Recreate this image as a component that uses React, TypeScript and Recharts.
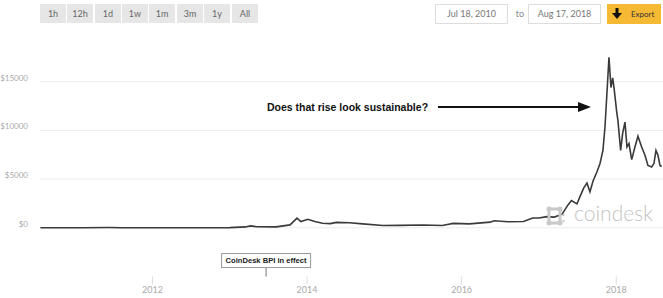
import React from "react";
import { LineChart, Line, XAxis, YAxis, ReferenceLine } from "recharts";

const years = [
  2010.55, 2010.85, 2011.1, 2011.44, 2011.6, 2011.9, 2012.3, 2012.7, 2013.0, 2013.2,
  2013.27, 2013.35, 2013.6, 2013.78, 2013.87, 2013.92, 2014.01, 2014.1, 2014.2, 2014.3,
  2014.38, 2014.55, 2014.72, 2014.98, 2015.2, 2015.5, 2015.75, 2015.89, 2016.1, 2016.37,
  2016.42, 2016.6, 2016.8, 2016.92, 2017.0, 2017.1, 2017.2, 2017.3, 2017.376, 2017.42,
  2017.492, 2017.531, 2017.58, 2017.621, 2017.66, 2017.7, 2017.751, 2017.79, 2017.828, 2017.854,
  2017.889, 2017.906, 2017.932, 2017.954, 2017.971, 2018.006, 2018.022, 2018.057, 2018.083, 2018.113,
  2018.139, 2018.165, 2018.2, 2018.242, 2018.281, 2018.329, 2018.372, 2018.41, 2018.458, 2018.488,
  2018.514, 2018.54, 2018.566, 2018.588,
];
const prices = [
  0.07, 0.25, 0.9, 25, 12, 3, 5, 11, 13, 90,
  200, 110, 100, 300, 990, 640, 880, 640, 470, 430,
  560, 520, 400, 240, 250, 280, 240, 450, 400, 580,
  720, 620, 650, 1000, 1000, 1150, 1100, 1400, 2350, 2800,
  2450, 3200, 4100, 4600, 3700, 4800, 5750, 6600, 7950, 10300,
  15100, 17500, 14400, 15400, 14400, 11900, 11000, 7950, 9700, 10850,
  8300, 8650, 7000, 8300, 9400, 8300, 7450, 6400, 6250, 6600,
  7950, 7450, 6400, 6300,
];
const yTicks = [0, 5000, 10000, 15000];
const xTicks = [2012, 2014, 2016, 2018];
const rangeButtons = ["1h", "12h", "1d", "1w", "1m", "3m", "1y", "All"];
const startDate = "Jul 18, 2010";
const endDate = "Aug 17, 2018";
const bpiYear = 2013.47;
const bpiLabel = "CoinDesk BPI in effect";
const arrowText = "Does that rise look sustainable?";

const data = years.map((t, i) => ({ t, price: prices[i] }));

const FONT = "Lato, 'Open Sans', sans-serif";

const YTick = (props: any) => {
  const { y, payload } = props;
  return (
    <text x={28} y={y - 3} textAnchor="end" fontFamily={FONT} fontSize={8} fill="#aaa" dominantBaseline="middle">
      {`$${payload.value}`}
    </text>
  );
};

const BpiLabel = (props: any) => {
  const vb = props.viewBox || {};
  const cx = vb.x;
  const top = vb.y;
  const w = 89;
  const h = 14;
  return (
    <g>
      <rect x={cx - w / 2} y={top - h} width={w} height={h} fill="#fff" stroke="#999" strokeWidth={1} />
      <text x={cx} y={top - h / 2 + 0.5} textAnchor="middle" dominantBaseline="middle" fontFamily="'Liberation Sans', Arial, sans-serif" fontWeight="bold" fontSize={7.6} fill="#222">
        {bpiLabel}
      </text>
    </g>
  );
};

export default function App() {
  return (
    <div style={{ position: "absolute", left: 0, top: 0, width: 663, height: 298, background: "#fff", overflow: "hidden" }}>
      {rangeButtons.map((b, i) => {
        const lefts = [40, 67, 95, 122, 149, 177, 204, 232];
        return (
          <div key={b} style={{ position: "absolute", left: lefts[i], top: 4, width: 26, height: 19, background: "#e6e6e6", color: "#666", fontFamily: FONT, fontSize: 9, lineHeight: "19px", textAlign: "center" }}>
            {b}
          </div>
        );
      })}
      <div style={{ position: "absolute", left: 435, top: 4, width: 71, height: 18, border: "1px solid #ddd", color: "#777", fontFamily: FONT, fontSize: 9, lineHeight: "18px", textAlign: "center" }}>{startDate}</div>
      <div style={{ position: "absolute", left: 514, top: 4, width: 12, height: 20, color: "#888", fontFamily: FONT, fontSize: 9, lineHeight: "20px", textAlign: "center" }}>to</div>
      <div style={{ position: "absolute", left: 528, top: 4, width: 71, height: 18, border: "1px solid #ddd", color: "#777", fontFamily: FONT, fontSize: 9, lineHeight: "18px", textAlign: "center" }}>{endDate}</div>
      <div style={{ position: "absolute", left: 607, top: 4, width: 54, height: 20, background: "#f5b933", color: "#333", fontFamily: FONT, fontSize: 8, lineHeight: "20px" }}>
        <svg width={10} height={12} style={{ position: "absolute", left: 5, top: 4 }}>
          <rect x={3.5} y={0} width={3} height={6} fill="#111" />
          <polygon points="0,5 10,5 5,11" fill="#111" />
        </svg>
        <span style={{ position: "absolute", left: 24 }}>Export</span>
      </div>

      <div style={{ position: "absolute", left: 0, top: 0 }}>
        <LineChart width={663} height={298} data={data} margin={{ top: 33, right: 0, bottom: 0, left: 0 }}>
          <XAxis
            dataKey="t"
            type="number"
            domain={[2010.545, 2018.605]}
            ticks={xTicks}
            height={21.5}
            axisLine={false}
            tickSize={8}
            tickMargin={2}
            tickLine={{ stroke: "#ddd" }}
            tick={{ fontFamily: FONT, fontSize: 9, fill: "#aaa" }}
            interval={0}
          />
          <YAxis
            type="number"
            domain={[-5000, 20000]}
            ticks={yTicks}
            width={40}
            axisLine={false}
            tickLine={false}
            tick={<YTick />}
            interval={0}
          />
          {yTicks.map((v) => (
            <ReferenceLine key={v} y={v} stroke="#ececec" strokeWidth={1} />
          ))}
          <ReferenceLine
            segment={[{ x: bpiYear, y: -5000 }, { x: bpiYear, y: -4080 }]}
            stroke="#777"
            strokeWidth={1}
            label={(p: any) => <BpiLabel {...p} />}
          />
          <Line type="linear" dataKey="price" stroke="#3a3a3a" strokeWidth={1.6} dot={false} isAnimationActive={false} />
        </LineChart>
      </div>

      <div style={{ position: "absolute", left: 267, top: 100, fontFamily: "'Liberation Sans', Arial, sans-serif", fontWeight: "bold", fontSize: 10.5, color: "#111", whiteSpace: "nowrap", lineHeight: "14px" }}>
        {arrowText}
      </div>
      <svg width={160} height={14} style={{ position: "absolute", left: 436, top: 100 }}>
        <line x1={2} y1={7} x2={145} y2={7} stroke="#111" strokeWidth={2} />
        <polygon points="142,2 155,7 142,12" fill="#111" />
      </svg>

      <svg width={20} height={22} style={{ position: "absolute", left: 545, top: 205 }}>
        <rect x={4} y={4} width={11} height={14} fill="none" stroke="#c9c9c9" strokeWidth={3} />
        <circle cx={4} cy={4} r={2.5} fill="#c9c9c9" />
        <circle cx={15} cy={4} r={2.5} fill="#c9c9c9" />
        <circle cx={4} cy={18} r={2.5} fill="#c9c9c9" />
        <circle cx={15} cy={18} r={2.5} fill="#c9c9c9" />
        <circle cx={18.5} cy={10} r={1.2} fill="#c9c9c9" />
        <circle cx={18.5} cy={16} r={1.2} fill="#c9c9c9" />
      </svg>
      <div style={{ position: "absolute", left: 574, top: 199, fontFamily: FONT, fontWeight: 300, fontSize: 21, color: "#c4c4c4", lineHeight: "28px", whiteSpace: "nowrap" }}>
        coindesk
      </div>
    </div>
  );
}
